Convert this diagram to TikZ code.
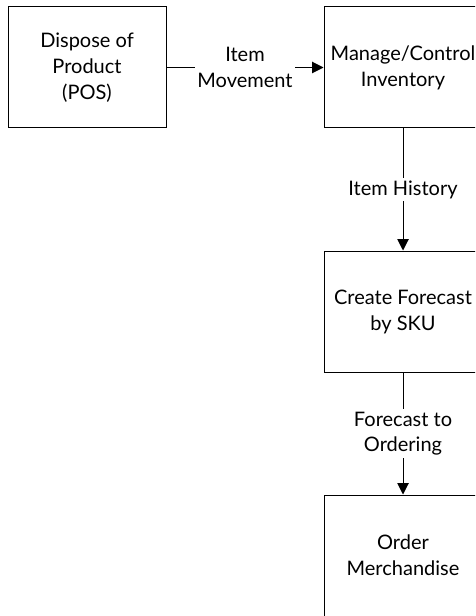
\documentclass[tikz,border=0pt]{standalone}
\usepackage{fontspec}
\setmainfont{Lato}
\usetikzlibrary{arrows.meta}
\begin{document}
\begin{tikzpicture}[x=0.75pt,y=-0.75pt,
  procbox/.style={draw=black,line width=0.75pt,minimum width=118.5pt,minimum height=90.75pt,
    align=center,inner sep=0pt,font=\fontsize{15}{19.5}\selectfont},
  flowlabel/.style={fill=white,align=center,inner sep=2pt,font=\fontsize{15}{19}\selectfont},
  flow/.style={line width=0.75pt,-{Triangle[length=8.5pt,width=8.5pt]}}]
  \clip (0,0) rectangle (475,616);
  \fill[white] (0,0) rectangle (475,616);
  % process boxes
  \node[procbox] (pos) at (87,67.5) {Dispose of\\Product\\(POS)};
  \node[procbox] (inv) at (403,67.5) {Manage/Control\\Inventory};
  \node[procbox] (fc) at (403,311.5) {Create Forecast\\by SKU};
  \node[procbox] (ord) at (403,555.5) {Order\\Merchandise};
  % flows between them
  \draw[flow] (pos.east) -- node[flowlabel] {Item\\Movement} (inv.west);
  \draw[flow] (inv.south) -- node[flowlabel] {Item History} (fc.north);
  \draw[flow] (fc.south) -- node[flowlabel] {Forecast to\\Ordering} (ord.north);
\end{tikzpicture}
\end{document}
